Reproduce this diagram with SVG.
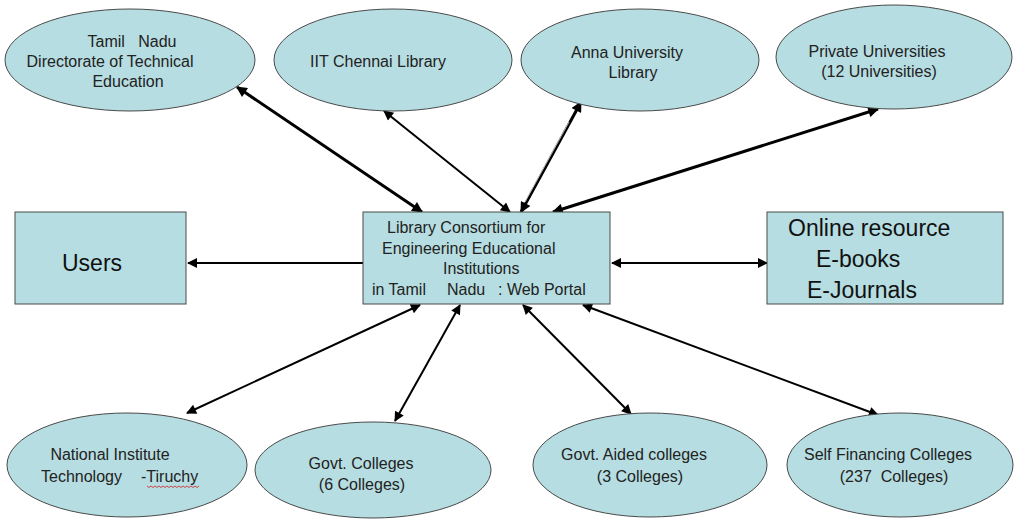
<svg xmlns="http://www.w3.org/2000/svg" width="1014" height="519" viewBox="0 0 1014 519">
  <style>
    .node { fill: #B6DDE1; stroke: #4a4a4a; stroke-width: 1; }
    .t { font-family: "Liberation Sans", Arial, sans-serif; font-size: 16px; fill: #222; text-anchor: middle; }
    .tl { font-family: "Liberation Sans", Arial, sans-serif; font-size: 16px; fill: #222; }
    .big { font-family: "Liberation Sans", Arial, sans-serif; font-size: 23px; fill: #111; }
    .link { stroke: #000; stroke-width: 2; fill: none; }
    .heavy { stroke-width: 3; }
  </style>
  <defs>
    <marker id="arrow" viewBox="0 0 10 10" refX="9" refY="5" markerWidth="6" markerHeight="5" orient="auto-start-reverse" markerUnits="strokeWidth">
      <path d="M0,0 L10,5 L0,10 z" fill="#000"/>
    </marker>
    <marker id="arrowS" viewBox="0 0 10 10" refX="9" refY="5" markerWidth="4.2" markerHeight="3.6" orient="auto-start-reverse" markerUnits="strokeWidth">
      <path d="M0,0 L10,5 L0,10 z" fill="#000"/>
    </marker>
  </defs>

  <rect width="1014" height="519" fill="#fff"/>

  <!-- connectors -->
  <g id="connectors">
    <line class="link" x1="363" y1="263" x2="188" y2="263" marker-end="url(#arrow)"/>
    <line class="link" x1="612" y1="263" x2="767" y2="263" marker-start="url(#arrow)" marker-end="url(#arrow)"/>
    <line class="link heavy" x1="422" y1="212" x2="237" y2="87" marker-start="url(#arrowS)" marker-end="url(#arrowS)"/>
    <line class="link" x1="510" y1="212" x2="384" y2="111" marker-start="url(#arrow)" marker-end="url(#arrow)"/>
    <line class="link heavy" x1="521" y1="212" x2="581" y2="102" marker-start="url(#arrowS)" marker-end="url(#arrowS)"/>
    <line x1="525" y1="202" x2="569" y2="122" stroke="#fff" stroke-width="0.7"/>
    <line class="link heavy" x1="553" y1="212" x2="878" y2="109" marker-start="url(#arrowS)" marker-end="url(#arrowS)"/>
    <line class="link" x1="420" y1="305" x2="187" y2="413" marker-start="url(#arrow)" marker-end="url(#arrow)"/>
    <line class="link" x1="460" y1="305" x2="395" y2="421" marker-start="url(#arrow)" marker-end="url(#arrow)"/>
    <line class="link" x1="523" y1="305" x2="631" y2="414" marker-start="url(#arrow)" marker-end="url(#arrow)"/>
    <line class="link" x1="583" y1="305" x2="878" y2="415" marker-start="url(#arrow)" marker-end="url(#arrow)"/>
  </g>

  <!-- top row -->
  <g id="dte">
    <ellipse class="node" cx="130" cy="60" rx="125" ry="51"/>
    <text class="t" x="132" y="47" style="white-space:pre">Tamil   Nadu</text>
    <text class="t" x="110" y="67">Directorate of Technical</text>
    <text class="t" x="128" y="87">Education</text>
  </g>
  <g id="iit">
    <ellipse class="node" cx="393" cy="60" rx="119" ry="51"/>
    <text class="t" x="378" y="67">IIT Chennai Library</text>
  </g>
  <g id="anna">
    <ellipse class="node" cx="640" cy="60" rx="119" ry="51"/>
    <text class="t" x="627" y="58">Anna University</text>
    <text class="t" x="633" y="78">Library</text>
  </g>
  <g id="private">
    <ellipse class="node" cx="894" cy="57" rx="118" ry="52"/>
    <text class="t" x="877" y="57">Private Universities</text>
    <text class="t" x="879" y="77">(12 Universities)</text>
  </g>

  <!-- middle row -->
  <g id="users">
    <rect class="node" x="15" y="212" width="171" height="92"/>
    <text class="big" x="62" y="271">Users</text>
  </g>
  <g id="portal">
    <rect class="node" x="363" y="212" width="247" height="92"/>
    <text class="tl" x="387" y="233">Library Consortium for</text>
    <text class="tl" x="382" y="254">Engineering Educational</text>
    <text class="tl" x="443" y="274">Institutions</text>
    <text class="tl" x="372" y="295">in Tamil</text>
    <text class="tl" x="447" y="295">Nadu</text>
    <text class="tl" x="498" y="295">: Web Portal</text>
  </g>
  <g id="online">
    <rect class="node" x="767" y="212" width="236" height="92"/>
    <text class="big" x="788" y="236">Online resource</text>
    <text class="big" x="816" y="267">E-books</text>
    <text class="big" x="807" y="298">E-Journals</text>
  </g>

  <!-- bottom row -->
  <g id="nit">
    <ellipse class="node" cx="127" cy="465" rx="120" ry="52"/>
    <text class="t" x="110" y="460">National Institute</text>
    <text class="tl" x="41" y="482">Technology</text>
    <text class="tl" x="141" y="482">-Tiruchy</text>
    <path d="M147,486 l2,1.5 l2,-1.5 l2,1.5 l2,-1.5 l2,1.5 l2,-1.5 l2,1.5 l2,-1.5 l2,1.5 l2,-1.5 l2,1.5 l2,-1.5 l2,1.5 l2,-1.5 l2,1.5 l2,-1.5 l2,1.5 l2,-1.5 l2,1.5 l2,-1.5 l2,1.5 l2,-1.5 l2,1.5 l2,-1.5 l2,1.5 l2,-1.5" fill="none" stroke="#d02020" stroke-width="0.8"/>
  </g>
  <g id="govt">
    <ellipse class="node" cx="373" cy="470" rx="118" ry="48"/>
    <text class="t" x="361" y="469">Govt. Colleges</text>
    <text class="t" x="362" y="490">(6 Colleges)</text>
  </g>
  <g id="aided">
    <ellipse class="node" cx="650" cy="465" rx="117" ry="52"/>
    <text class="t" x="634" y="460">Govt. Aided colleges</text>
    <text class="t" x="640" y="482">(3 Colleges)</text>
  </g>
  <g id="selffin">
    <ellipse class="node" cx="900" cy="465" rx="113" ry="52"/>
    <text class="t" x="888" y="460">Self Financing Colleges</text>
    <text class="t" x="894" y="482" style="white-space:pre">(237  Colleges)</text>
  </g>
</svg>
